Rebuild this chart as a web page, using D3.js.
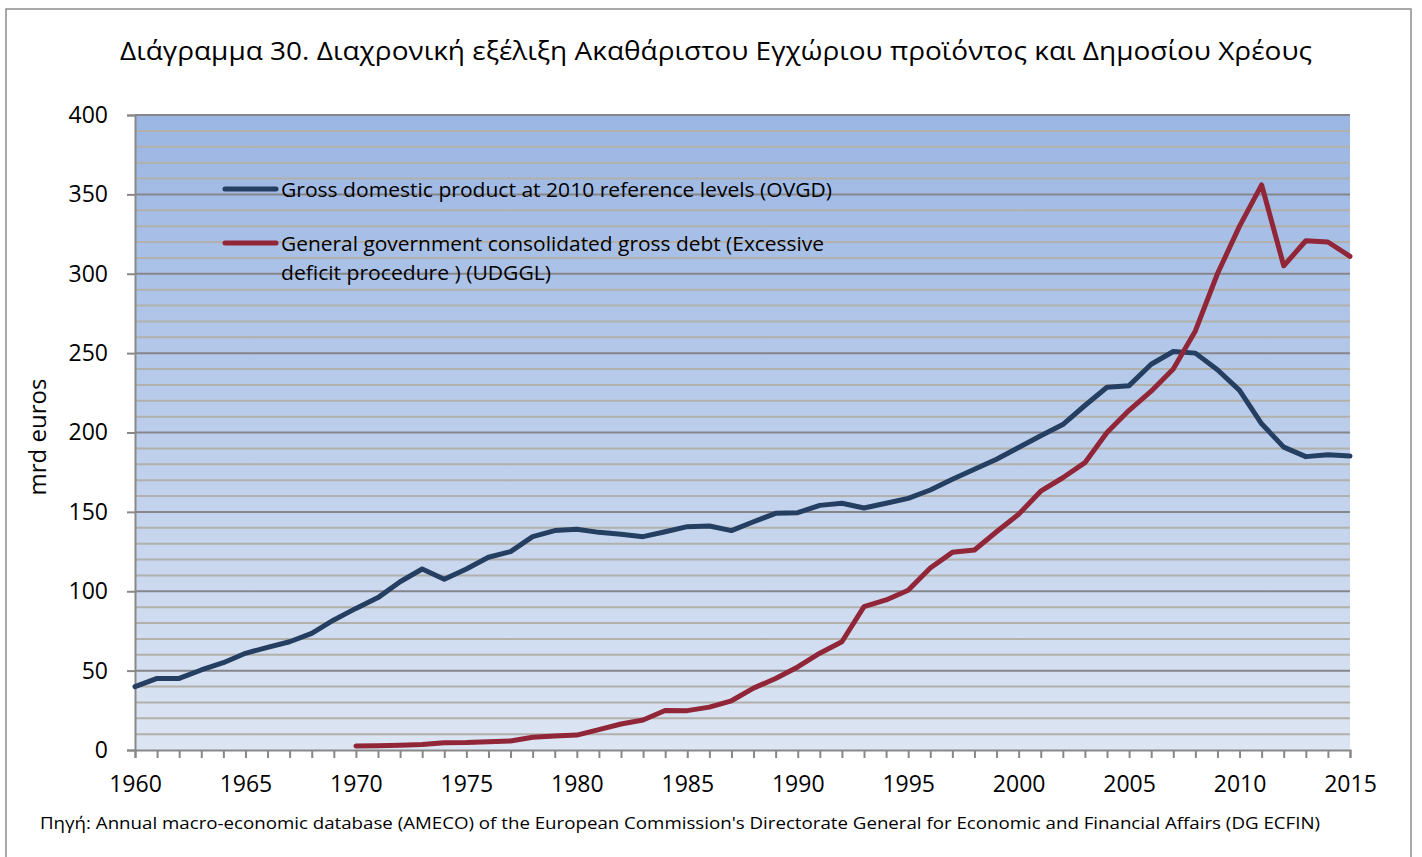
<!DOCTYPE html>
<html><head><meta charset="utf-8">
<script src="https://cdn.jsdelivr.net/npm/d3@7"></script>
<style>body{margin:0;background:#fff;}svg{display:block;font-family:"Open Sans","Noto Sans",sans-serif;}</style>
</head><body>
<svg id="c" width="1422" height="857"></svg>
<script>
const years = d3.range(1960, 2016);
const gdpValues = [39.9,45.1,45.1,50.4,55,60.9,64.7,68.2,73.5,81.9,
  89.2,96,106,114,107.5,114,121.4,125,134.4,138.2,
  139,137.1,135.9,134.4,137.5,140.7,141.1,138.2,143.8,149.1,
  149.5,154.1,155.4,152.4,155.4,158.5,163.8,170.5,176.8,183.1,
  190.5,198,205,217,228.5,229.5,243,251,250,239.5,
  226.5,205.5,190.8,184.8,186,185.2];
const debtYears = d3.range(1970, 2016);
const debtValues = [2.5,2.7,3,3.5,4.6,4.7,5.2,5.7,8,8.8,
  9.4,12.8,16.4,18.9,24.9,24.8,27,31,39,45,
  52.3,61,68.2,90.3,94.5,100.6,114.6,124.5,126,137.5,
  148.5,163,171.5,181,200,214,226,240,264,300,
  330,356,305,320.8,320,311];
const yTicks = [0,50,100,150,200,250,300,350,400];
const xTickLabels = [1960,1965,1970,1975,1980,1985,1990,1995,2000,2005,2010,2015];
const seriesNames = ["Gross domestic product at 2010 reference levels (OVGD)",
  "General government consolidated gross debt (Excessive", "deficit procedure ) (UDGGL)"];
const titleText = "Διάγραμμα 30. Διαχρονική εξέλιξη Ακαθάριστου Εγχώριου προϊόντος και Δημοσίου Χρέους";
const sourceText = "Πηγή: Annual macro-economic database (AMECO) of the European Commission's Directorate General for Economic and Financial Affairs (DG ECFIN)";
const yLabel = "mrd euros";

const svg = d3.select("#c");
const L = 135, R = 1350, T = 115, B = 750;
const x = d3.scaleLinear().domain([1960, 2015]).range([L, R]);
const y = d3.scaleLinear().domain([0, 400]).range([B, T]);

// outer frame
svg.append("rect").attr("x", 6).attr("y", 9).attr("width", 1405).attr("height", 860)
  .attr("fill", "#fff").attr("stroke", "#8c8c8c").attr("stroke-width", 1.5);

const defs = svg.append("defs");
const g = defs.append("linearGradient").attr("id", "bg").attr("x1", 0).attr("x2", 0).attr("y1", 0).attr("y2", 1);
g.append("stop").attr("offset", "0%").attr("stop-color", "#9bb6e3");
g.append("stop").attr("offset", "100%").attr("stop-color", "#dce5f3");
svg.append("rect").attr("x", L).attr("y", T).attr("width", R - L).attr("height", B - T).attr("fill", "url(#bg)");

// gridlines
const minor = d3.range(10, 400, 10).filter(v => v % 50 !== 0);
svg.append("g").selectAll("line").data(minor).join("line")
  .attr("x1", L).attr("x2", R).attr("y1", d => y(d)).attr("y2", d => y(d))
  .attr("stroke", "#b2b0aa").attr("stroke-width", 2);
svg.append("g").selectAll("line").data(yTicks.filter(v => v > 0)).join("line")
  .attr("x1", L).attr("x2", R).attr("y1", d => y(d)).attr("y2", d => y(d))
  .attr("stroke", "#86868a").attr("stroke-width", 2);

// axes
const yAxis = svg.append("g").attr("transform", `translate(${L},0)`)
  .call(d3.axisLeft(y).tickValues(yTicks).tickSize(8).tickPadding(19));
yAxis.select(".domain").attr("stroke", "#888").attr("stroke-width", 2);
yAxis.selectAll(".tick line").attr("stroke", "#888").attr("stroke-width", 2);
yAxis.selectAll("text").attr("font-size", 23).attr("fill", "#000").attr("font-family", "Open Sans");

const xAxis = svg.append("g").attr("transform", `translate(0,${B})`)
  .call(d3.axisBottom(x).tickValues(years).tickSize(8).tickFormat(d => xTickLabels.includes(d) ? d : "").tickPadding(18));
xAxis.select(".domain").attr("stroke", "#888").attr("stroke-width", 2);
xAxis.selectAll(".tick line").attr("stroke", "#888").attr("stroke-width", 2);
xAxis.selectAll("text").attr("font-size", 23).attr("fill", "#000").attr("font-family", "Open Sans");

// lines
const line = d3.line().x(d => x(d[0])).y(d => y(d[1])).curve(d3.curveLinear);
svg.append("path").datum(years.map((yr, i) => [yr, gdpValues[i]]))
  .attr("d", line).attr("fill", "none").attr("stroke", "#243f61").attr("stroke-width", 5)
  .attr("stroke-linejoin", "round").attr("stroke-linecap", "round");
svg.append("path").datum(debtYears.map((yr, i) => [yr, debtValues[i]]))
  .attr("d", line).attr("fill", "none").attr("stroke", "#902638").attr("stroke-width", 5)
  .attr("stroke-linejoin", "round").attr("stroke-linecap", "round");

// legend
const leg = svg.append("g");
leg.append("line").attr("x1", 225).attr("x2", 276).attr("y1", 189).attr("y2", 189)
  .attr("stroke", "#243f61").attr("stroke-width", 5).attr("stroke-linecap", "round");
leg.append("line").attr("x1", 225).attr("x2", 276).attr("y1", 243).attr("y2", 243)
  .attr("stroke", "#902638").attr("stroke-width", 5).attr("stroke-linecap", "round");
leg.append("text").attr("x", 281).attr("y", 197).attr("font-size", 20).text(seriesNames[0])
  .attr("textLength", 551).attr("lengthAdjust", "spacingAndGlyphs");
leg.append("text").attr("x", 281).attr("y", 251).attr("font-size", 20).text(seriesNames[1])
  .attr("textLength", 543).attr("lengthAdjust", "spacingAndGlyphs");
leg.append("text").attr("x", 281).attr("y", 280).attr("font-size", 20).text(seriesNames[2])
  .attr("textLength", 270).attr("lengthAdjust", "spacingAndGlyphs");

// title
svg.append("text").attr("x", 120).attr("y", 60).attr("font-size", 25).text(titleText)
  .attr("textLength", 1192).attr("lengthAdjust", "spacingAndGlyphs");

// y label
svg.append("text").attr("transform", "translate(46,437) rotate(-90)").attr("text-anchor", "middle")
  .attr("font-size", 24).text(yLabel);

// source
svg.append("text").attr("x", 40).attr("y", 829).attr("font-size", 17).text(sourceText)
  .attr("textLength", 1280).attr("lengthAdjust", "spacingAndGlyphs");
</script>
</body></html>
